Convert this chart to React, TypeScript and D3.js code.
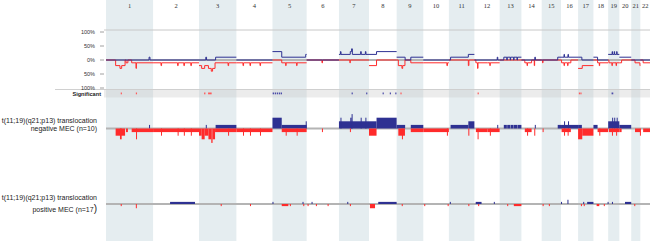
import React from "react";
import * as d3 from "d3";

// ---------- DATA ----------
const chromosomes = ["1","2","3","4","5","6","7","8","9","10","11","12","13","14","15","16","17","18","19","20","21","22"];
const chromLengthsMb = [249.3,243.2,198.0,191.2,180.9,171.1,159.1,146.4,141.2,135.5,135.0,133.9,115.2,107.3,102.5,90.4,81.2,78.1,59.1,63.0,48.1,51.3];

const topTicks = [100, 50, 0, -50, -100];
const topTickLabels = ["100%", "50%", "0%", "50%", "100%"];

// [chromosome, startMb, endMb, number of cases]
type Seg = [number, number, number, number];

const negN = 10;
const posN = 17;

const negGains: Seg[] = [
  [1,228,233,1],
  [3,36,40,1],[3,88,198,1],
  [5,0,49,3],[5,49,180.9,1],[5,176,180.9,2],
  [7,0,159.1,2],[7,8,11,3],[7,60,67,3],[7,67,71,4],[7,115,118,3],[7,140,143,3],
  [8,0,40,2],[8,40,146.4,3],
  [9,0,45,1],[9,75,141.2,1],
  [11,9,103,1],[11,103,135,2],
  [12,121,124,1],
  [13,22,38,1],[13,40,56,1],[13,58,74,1],[13,76,92,1],[13,94,115.2,1],
  [14,71,74,1],
  [15,85,102.5,1],
  [16,0,90.4,1],[16,16,18,2],[16,37,39,2],
  [17,0,20,1],
  [18,0,22,1],
  [19,0,59.1,2],[19,21,23,3],[19,32,34,3],[19,45,47,3],
  [20,0,63,1],
];

const negLosses: Seg[] = [
  [1,51,101,2],[1,74,83,3],[1,106,116,1],[1,136,249.3,1],[1,159,161,3],
  [2,0,243.2,1],[2,42,45,2],[2,130,133,2],[2,163,166,2],[2,200,203,2],
  [3,0,14,2],[3,14,30,3],[3,30,50,2],[3,50,65,3],[3,65,72,4],[3,72,85,3],[3,85,198,1],[3,154,157,2],
  [4,0,191.2,1],[4,35,38,2],[4,72,75,2],[4,125,128,2],
  [5,49,180.9,1],[5,70,72,2],[5,128,130,2],
  [6,81,84,1],
  [7,58,60,1],
  [8,0,40,2],
  [9,9,44,2],[9,28,32,3],[9,75,141.2,1],
  [10,0,135.5,1],[10,125,128,2],
  [11,103,106,2],
  [12,8,70,1],[12,17,19,3],[12,70,133.9,1],[12,82,84,2],
  [14,18,54,1],[14,30,32,2],[14,68,70,2],
  [15,5,7,1],
  [16,3,52,1],[16,16,18,2],[16,35,37,2],
  [17,0,22,3],[17,22,81.2,2],
  [18,22,78.1,1],[18,31,33,2],
  [19,4,59.1,1],[19,20,22,2],[19,42,44,2],
  [20,0,12,1],
  [21,20,48.1,1],[21,46,48.1,2],
  [22,15,51.3,1],
];

const posGains: Seg[] = [
  [2,90,222,1],
  [5,0,3,1],[5,159,163,1],
  [6,26,29,1],
  [7,44,47,1],
  [8,49,146.4,1],
  [11,5,8,1],
  [12,7,38,1],[12,103,106,1],
  [16,0,3,1],[16,34,37,2],
  [17,27,29,1],[17,48,81.2,1],
  [18,75,78.1,1],
  [19,20,23,1],
  [20,30,63,1],
];

const posLosses: Seg[] = [
  [1,78,81,1],[1,158,161,2],
  [3,115,118,1],
  [4,72,75,1],
  [5,49,84,1],[5,92,94,1],[5,163,166,1],
  [6,5,8,1],[6,49,52,1],[6,111,114,1],
  [7,58,61,1],
  [8,5,32,2],
  [9,27,30,1],
  [10,5,8,1],[10,129,132,1],
  [11,103,106,1],
  [12,20,23,1],
  [13,40,43,1],[13,75,115.2,1],
  [15,5,8,1],[15,38,41,1],
  [17,15,18,1],[17,30,33,1],
  [18,17,31,1],[18,55,58,1],
  [21,16,19,1],
];

// [chromosome, startMb, endMb, kind]
const significant: [number, number, number, "gain" | "loss"][] = [
  [1,78,81,"loss"],[1,158,161,"loss"],
  [3,27,34,"loss"],[3,48,67,"loss"],
  [5,1,8,"gain"],[5,12,19,"gain"],[5,23,30,"gain"],[5,34,41,"gain"],[5,44,49,"gain"],
  [7,67,70,"gain"],[7,144,147,"gain"],
  [8,72,75,"gain"],[8,110,113,"gain"],[8,139,142,"gain"],
  [9,20,23,"loss"],
  [12,17,20,"loss"],
  [17,4,10,"loss"],[17,12,18,"loss"],
  [19,18,27,"gain"],
];

// ---------- LAYOUT ----------
const W = 650, H = 241;
const X0 = 106, X1 = 650;
const BLUE = "#2e3192";
const RED = "#ff2b2b";
const SHADE = "#e5edf0";
const GRID = "#b4b4b4";

const offsets = [0, ...Array.from(d3.cumsum(chromLengthsMb))];
const totalMb = offsets[offsets.length - 1];
const x = d3.scaleLinear().domain([0, totalMb]).range([X0, X1]);
const gx = (chr: number, mb: number) => x(offsets[chr - 1] + mb);

const yTop = d3.scaleLinear().domain([-100, 100]).range([88, 32]);
const PX_PER_FRACTION = 36;
const yMid = d3.scaleLinear().domain([-1, 1]).range([128.5 + PX_PER_FRACTION, 128.5 - PX_PER_FRACTION]);
const yBot = d3.scaleLinear().domain([-1, 1]).range([204 + PX_PER_FRACTION, 204 - PX_PER_FRACTION]);

function stepPoints(segs: Seg[], chr: number, n: number): [number, number][] {
  const own = segs.filter(s => s[0] === chr);
  const len = chromLengthsMb[chr - 1];
  const br = Array.from(new Set([0, len, ...own.flatMap(s => [s[1], s[2]])])).sort((a, b) => a - b);
  const pts: [number, number][] = [];
  for (let i = 0; i < br.length - 1; i++) {
    const mid = (br[i] + br[i + 1]) / 2;
    const v = d3.max(own.filter(s => s[1] <= mid && s[2] >= mid), s => s[3]) ?? 0;
    pts.push([br[i], (v / n) * 100]);
  }
  pts.push([len, pts.length ? pts[pts.length - 1][1] : 0]);
  return pts;
}

function Bars({ segs, n, y, dir, color }: { segs: Seg[]; n: number; y: d3.ScaleLinear<number, number>; dir: 1 | -1; color: string }) {
  const sorted = [...segs].sort((a, b) => a[3] - b[3]);
  return (
    <g>
      {sorted.map((s, i) => {
        const xa = gx(s[0], s[1]);
        const xb = gx(s[0], s[2]);
        const w = Math.max(1, xb - xa);
        const y0 = y(0);
        const y1 = y((dir * s[3]) / n);
        return <rect key={i} x={xa} width={w} y={Math.min(y0, y1)} height={Math.abs(y1 - y0)} fill={color} />;
      })}
    </g>
  );
}

export default function App() {
  const line = d3.line<[number, number]>().curve(d3.curveStepAfter);
  const stepPath = (segs: Seg[], sign: number) =>
    chromosomes.map((_, ci) => {
      const chr = ci + 1;
      const pts = stepPoints(segs, chr, negN).map(([mb, v]) => [gx(chr, mb), yTop(sign * v)] as [number, number]);
      return line(pts) ?? "";
    }).join("");

  const labelFont = "'Liberation Sans', Arial, sans-serif";

  return (
    <svg width={W} height={H} style={{ position: "absolute", left: 0, top: 0, display: "block", background: "#fff" }}>
      {/* chromosome shading */}
      {chromosomes.map((c, i) =>
        i % 2 === 0 ? (
          <rect key={"sh" + c} x={gx(i + 1, 0)} y={0} width={gx(i + 1, chromLengthsMb[i]) - gx(i + 1, 0)} height={H} fill={SHADE} />
        ) : null
      )}
      {/* chromosome numbers */}
      {chromosomes.map((c, i) => (
        <text key={"cn" + c} x={(gx(i + 1, 0) + gx(i + 1, chromLengthsMb[i])) / 2} y={8} textAnchor="middle"
          fontFamily="'Liberation Serif', 'DejaVu Serif', serif" fontSize={6.5} fill="#333">{c}</text>
      ))}

      {/* top panel */}
      <line x1={104} x2={X1} y1={30} y2={30} stroke="#c8c8c8" strokeWidth={1} />
      <line x1={55} x2={X1} y1={89.5} y2={89.5} stroke="#d0d0d0" strokeWidth={1} />
      <rect x={104} y={89.5} width={X1 - 104} height={8} fill="#c9c9c9" opacity={0.35} />
      <line x1={X0} x2={X1} y1={yTop(0)} y2={yTop(0)} stroke={GRID} strokeWidth={2} />
      {topTicks.map((t, i) => (
        <g key={"tk" + i}>
          <line x1={100} x2={104} y1={yTop(t)} y2={yTop(t)} stroke="#888" strokeWidth={0.8} />
          <text x={95} y={yTop(t) + 1.9} textAnchor="end" fontFamily={labelFont} fontSize={5.5} fill="#333">{topTickLabels[i]}</text>
        </g>
      ))}
      <path d={stepPath(negLosses, -1)} fill="none" stroke={RED} strokeWidth={1} />
      <path d={stepPath(negGains, 1)} fill="none" stroke={BLUE} strokeWidth={1} />

      {/* significance row */}
      <text x={101} y={96} textAnchor="end" fontFamily={labelFont} fontSize={5.6} fontWeight="bold" fill="#222">Significant</text>
      {significant.map((s, i) => (
        <rect key={"sg" + i} x={gx(s[0], s[1])} width={Math.max(1.2, gx(s[0], s[2]) - gx(s[0], s[1]))} y={92.5} height={1.8}
          fill={s[3] === "gain" ? "#4a4aa8" : "#ff5a5a"} />
      ))}

      {/* middle panel */}
      <line x1={X0} x2={X1} y1={yMid(0)} y2={yMid(0)} stroke={GRID} strokeWidth={2} />
      <Bars segs={negGains} n={negN} y={yMid} dir={1} color={BLUE} />
      <Bars segs={negLosses} n={negN} y={yMid} dir={-1} color={RED} />
      <text x={97} y={122.5} textAnchor="end" fontFamily={labelFont} fontSize={7} fill="#222">t(11;19)(q21;p13) translocation</text>
      <text x={97} y={131} textAnchor="end" fontFamily={labelFont} fontSize={7} fill="#222">negative MEC (n=10)</text>

      {/* bottom panel */}
      <line x1={X0} x2={X1} y1={yBot(0)} y2={yBot(0)} stroke={GRID} strokeWidth={2} />
      <Bars segs={posGains} n={posN} y={yBot} dir={1} color={BLUE} />
      <Bars segs={posLosses} n={posN} y={yBot} dir={-1} color={RED} />
      <text x={97} y={199.5} textAnchor="end" fontFamily={labelFont} fontSize={7} fill="#222">t(11;19)(q21;p13) translocation</text>
      <text x={97} y={211.5} textAnchor="end" fontFamily={labelFont} fontSize={7} fill="#222">
        positive MEC (n=17<tspan fontSize={10}>)</tspan>
      </text>
    </svg>
  );
}
